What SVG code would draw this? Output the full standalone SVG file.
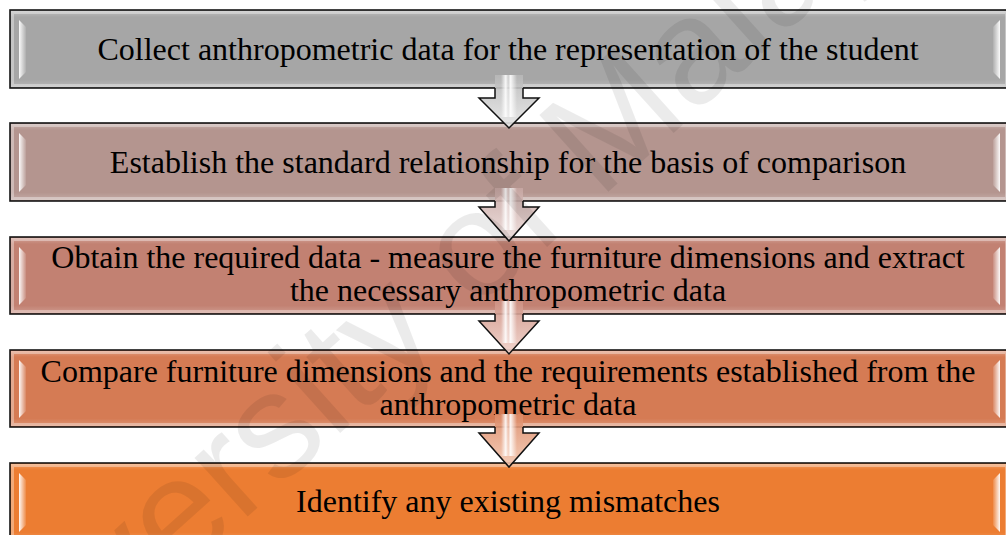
<svg xmlns="http://www.w3.org/2000/svg" width="1006" height="535" viewBox="0 0 1006 535">
<style>
.box{stroke:#141414;stroke-width:1.6}
.rim{fill:none;stroke:#fff;stroke-opacity:0.35;stroke-width:3}
.txt{font-size:32px;fill:#000;text-anchor:middle}
.arw{stroke:#111;stroke-width:1.5;stroke-linejoin:miter}
.wm{font-size:150px;fill:#000;fill-opacity:0.08}
</style>
<defs>
<linearGradient id="hlL" x1="0" y1="0" x2="1" y2="0">
<stop offset="0" stop-color="#fff" stop-opacity="0.95"/>
<stop offset="1" stop-color="#fff" stop-opacity="0.1"/>
</linearGradient>
<linearGradient id="hlR" x1="1" y1="0" x2="0" y2="0">
<stop offset="0" stop-color="#fff" stop-opacity="0.95"/>
<stop offset="1" stop-color="#fff" stop-opacity="0.1"/>
</linearGradient>
<linearGradient id="shade" x1="0" y1="0" x2="0" y2="1">
<stop offset="0" stop-color="#fff" stop-opacity="0.25"/>
<stop offset="0.08" stop-color="#fff" stop-opacity="0"/>
<stop offset="0.9" stop-color="#fff" stop-opacity="0"/>
<stop offset="1" stop-color="#fff" stop-opacity="0.2"/>
</linearGradient>
<linearGradient id="stripe" x1="0" y1="0" x2="1" y2="0">
<stop offset="0" stop-color="#fff" stop-opacity="0"/>
<stop offset="0.3" stop-color="#fff" stop-opacity="0.9"/>
<stop offset="0.45" stop-color="#fff" stop-opacity="0.3"/>
<stop offset="0.6" stop-color="#fff" stop-opacity="0.9"/>
<stop offset="1" stop-color="#fff" stop-opacity="0"/>
</linearGradient>
<linearGradient id="a1" x1="0" y1="0" x2="0" y2="1"><stop offset="0" stop-color="#b8b8b8"/><stop offset="1" stop-color="#e6e6e6"/></linearGradient>
<linearGradient id="a2" x1="0" y1="0" x2="0" y2="1"><stop offset="0" stop-color="#c7a7a3"/><stop offset="1" stop-color="#eddcda"/></linearGradient>
<linearGradient id="a3" x1="0" y1="0" x2="0" y2="1"><stop offset="0" stop-color="#cf9385"/><stop offset="1" stop-color="#efd0c8"/></linearGradient>
<linearGradient id="a4" x1="0" y1="0" x2="0" y2="1"><stop offset="0" stop-color="#dc8a66"/><stop offset="1" stop-color="#f3c8b2"/></linearGradient>
</defs>
<rect x="0" y="0" width="1006" height="535" fill="#fff"/>

<g font-family="Liberation Serif, Times New Roman, serif">
<g id="node1">
<rect class="box" x="10" y="10" width="999" height="78" fill="#a6a6a6"/>
<rect x="11" y="11" width="997" height="76" fill="url(#shade)"/>
<rect class="rim" x="12.5" y="12.5" width="994" height="73"/>
<polygon points="19,20 26,27 26,72 19,79" fill="url(#hlL)"/>
<polygon points="1000,20 993,27 993,72 1000,79" fill="url(#hlR)"/>
<text class="txt" x="508" y="60">Collect anthropometric data for the representation of the student</text>
</g>

<g id="node2">
<rect class="box" x="10" y="123" width="999" height="78" fill="#b4958f"/>
<rect x="11" y="124" width="997" height="76" fill="url(#shade)"/>
<rect class="rim" x="12.5" y="125.5" width="994" height="73"/>
<polygon points="19,133 26,140 26,185 19,192" fill="url(#hlL)"/>
<polygon points="1000,133 993,140 993,185 1000,192" fill="url(#hlR)"/>
<text class="txt" x="508" y="173">Establish the standard relationship for the basis of comparison</text>
</g>

<g id="node3">
<rect class="box" x="10" y="237" width="999" height="77" fill="#c28172"/>
<rect x="11" y="238" width="997" height="75" fill="url(#shade)"/>
<rect class="rim" x="12.5" y="239.5" width="994" height="72"/>
<polygon points="19,247 26,254 26,298 19,305" fill="url(#hlL)"/>
<polygon points="1000,247 993,254 993,298 1000,305" fill="url(#hlR)"/>
<text class="txt" x="508" y="268">Obtain the required data - measure the furniture dimensions and extract</text>
<text class="txt" x="508" y="301">the necessary anthropometric data</text>
</g>

<g id="node4">
<rect class="box" x="10" y="350" width="999" height="77" fill="#d57b54"/>
<rect x="11" y="351" width="997" height="75" fill="url(#shade)"/>
<rect class="rim" x="12.5" y="352.5" width="994" height="72"/>
<polygon points="19,360 26,367 26,411 19,418" fill="url(#hlL)"/>
<polygon points="1000,360 993,367 993,411 1000,418" fill="url(#hlR)"/>
<text class="txt" x="508" y="382">Compare furniture dimensions and the requirements established from the</text>
<text class="txt" x="508" y="415">anthropometric data</text>
</g>

<g id="node5">
<rect class="box" x="10" y="463" width="999" height="78" fill="#ec7d32"/>
<rect x="11" y="464" width="997" height="76" fill="url(#shade)"/>
<rect class="rim" x="12.5" y="465.5" width="994" height="73"/>
<polygon points="19,473 26,480 26,525 19,532" fill="url(#hlL)"/>
<polygon points="1000,473 993,480 993,525 1000,532" fill="url(#hlR)"/>
<text class="txt" x="508" y="512">Identify any existing mismatches</text>
</g>
</g>

<g id="connectors">
<g>
<path d="M495,75 L523,75 L523,98 L539,98 L509,128 L479,98 L495,98 Z" fill="url(#a1)" fill-opacity="0.9"/>
<rect x="501" y="75" width="16" height="42" fill="url(#stripe)"/>
<path class="arw" d="M495,88 L495,98 L479,98 L509,128 L539,98 L523,98 L523,88" fill="none"/>
</g>
<g>
<path d="M495,188 L523,188 L523,207 L539,207 L509,241 L479,207 L495,207 Z" fill="url(#a2)" fill-opacity="0.9"/>
<rect x="501" y="188" width="16" height="42" fill="url(#stripe)"/>
<path class="arw" d="M495,201 L495,207 L479,207 L509,241 L539,207 L523,207 L523,201" fill="none"/>
</g>
<g>
<path d="M495,301 L523,301 L523,321 L539,321 L509,354 L479,321 L495,321 Z" fill="url(#a3)" fill-opacity="0.9"/>
<rect x="501" y="301" width="16" height="42" fill="url(#stripe)"/>
<path class="arw" d="M495,314 L495,321 L479,321 L509,354 L539,321 L523,321 L523,314" fill="none"/>
</g>
<g>
<path d="M495,414 L523,414 L523,433 L539,433 L509,467 L479,433 L495,433 Z" fill="url(#a4)" fill-opacity="0.9"/>
<rect x="501" y="414" width="16" height="42" fill="url(#stripe)"/>
<path class="arw" d="M495,427 L495,433 L479,433 L509,467 L539,433 L523,433 L523,427" fill="none"/>
</g>
</g>

<text class="wm" font-family="Liberation Sans, Arial, sans-serif" x="0" y="0" transform="translate(-45,780) rotate(-42)">University of Malaya</text>
</svg>
